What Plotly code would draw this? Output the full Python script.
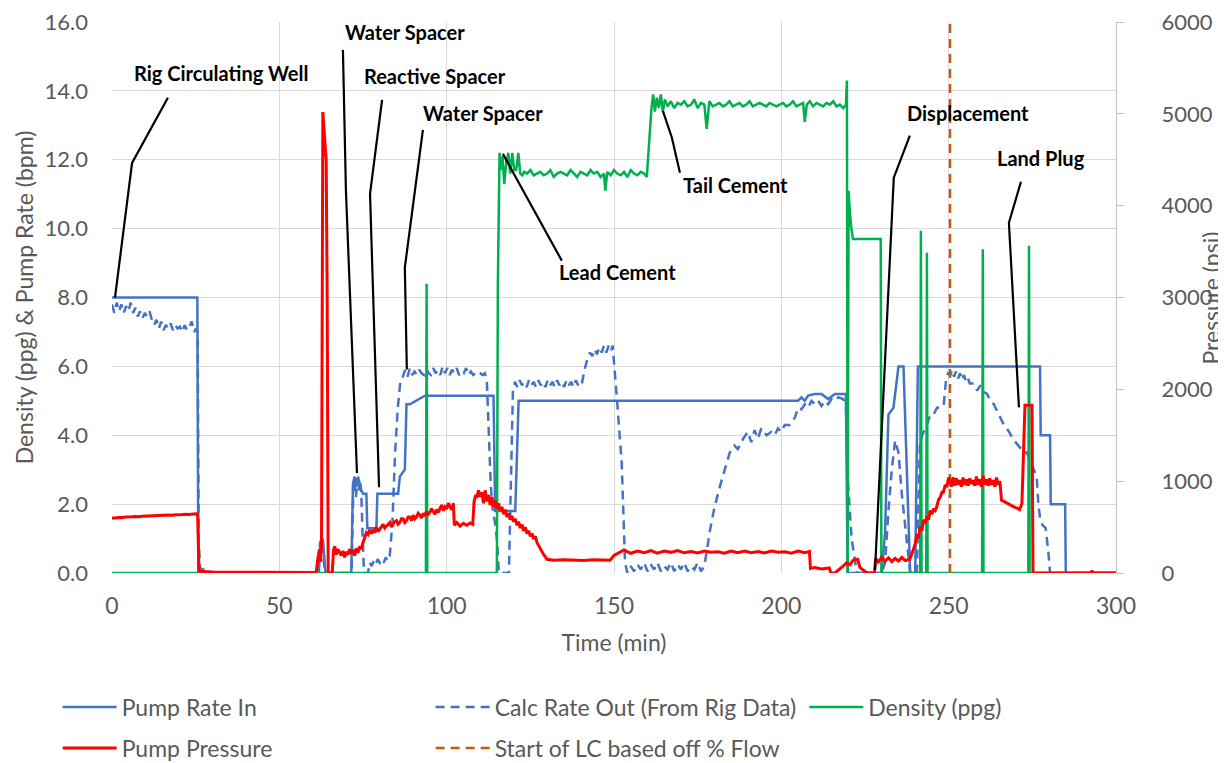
import plotly.graph_objects as go

# ---------------- data (time in min, value) ----------------
rate_in_pts = [(0, 8.0), (25.5, 8.0), (25.8, 0), (61.8, 0), (62.3, 0.8), (63.0, 1.0), (63.8, 0), (71.5, 0),
               (72.0, 2.6), (72.5, 2.8), (73.0, 2.5), (73.5, 2.8), (74.0, 2.6), (74.5, 2.4), (75.0, 2.3),
               (76.0, 2.3), (76.3, 1.3), (79.0, 1.3), (79.3, 2.3), (85.5, 2.3), (86.0, 2.8), (87.5, 3.0),
               (88.0, 4.9), (89.0, 4.9), (93.5, 5.15), (114.0, 5.15), (114.5, 1.8), (120.5, 1.8),
               (121.5, 5.0), (205.0, 5.0), (206.0, 5.1), (207.0, 5.0), (208.0, 5.15), (210.0, 5.2),
               (212.0, 5.2), (214.0, 5.05), (216.0, 5.2), (218.0, 5.2), (219.3, 5.2), (219.8, 0),
               (230.0, 0), (231.0, 1.2), (232.0, 4.6), (233.5, 4.8), (235.0, 6.0), (236.5, 6.0),
               (237.5, 3.0), (238.5, 0), (240.0, 0), (240.8, 6.0), (277.3, 6.0), (277.5, 4.0),
               (280.3, 4.0), (280.5, 2.0), (284.8, 2.0), (285.0, 0), (300, 0)]

rate_out_pts = [(0, 7.8), (0.7, 7.55), (1.4, 7.85), (2.1, 7.6), (2.8, 7.8), (3.5, 7.55), (4.2, 7.75),
                (4.9, 7.6), (5.6, 7.85), (6.3, 7.55), (7, 7.7), (7.7, 7.45), (8.4, 7.6), (9.1, 7.4),
                (9.8, 7.55), (10.5, 7.45), (11.2, 7.6), (11.9, 7.35), (12.6, 7.2), (13.3, 7.35), (14, 7.1),
                (14.7, 7.3), (15.4, 7.05), (16.1, 7.2), (16.8, 7.1), (17.5, 7.25), (18.2, 7.05), (18.9, 7.2),
                (19.6, 7.1), (20.3, 7.15), (21, 7.0), (21.7, 7.2), (22.4, 7.05), (23.1, 7.15), (23.8, 7.3),
                (24.5, 7.0), (25.2, 7.1), (25.6, 7.0), (25.9, 1.0), (26.3, 0.15), (27, 0.1), (28, 0.1),
                (28.5, 0), (61.5, 0), (62.2, 0.9), (62.8, 1.0), (63.3, 0.3), (63.8, 0), (71.6, 0),
                (72.1, 2.4), (72.5, 2.7), (72.9, 2.2), (73.3, 2.75), (73.7, 2.4), (74.1, 2.7), (74.5, 2.3),
                (74.9, 1.0), (75.3, 0), (76.5, 0), (77, 0.3), (77.6, 0.2), (78.2, 0.35), (78.8, 0.25),
                (79.4, 0.4), (80, 0.3), (80.6, 0.4), (81.2, 0.3), (81.8, 0.45), (82.4, 0.35), (83, 0.5),
                (83.8, 1.5), (84.6, 3.5), (85.4, 4.8), (86.2, 5.6), (86.9, 5.7), (87.6, 5.9), (88.3, 5.7),
                (89, 5.95), (89.7, 5.75), (90.4, 5.85), (91.1, 5.75), (91.8, 5.9), (92.5, 5.8), (93.2, 5.75),
                (93.9, 5.95), (94.6, 5.8), (95.3, 5.75), (96, 5.95), (96.7, 5.8), (97.4, 5.9), (98.1, 5.75),
                (98.8, 6.0), (99.5, 5.8), (100.2, 5.95), (100.9, 5.75), (101.6, 5.9), (102.3, 5.8),
                (103, 5.95), (103.7, 5.75), (104.4, 5.85), (105.1, 5.8), (105.8, 5.95), (106.5, 5.75),
                (107.2, 5.85), (107.9, 5.75), (108.6, 5.8), (109.3, 5.75), (110, 5.8), (110.7, 5.75),
                (111.4, 5.8), (112, 5.6), (112.6, 4.0), (113.2, 2.5), (113.8, 1.8), (114.4, 1.5), (115, 1.0),
                (115.6, 0), (118.6, 0), (119.2, 3.0), (119.8, 5.3), (120.4, 5.55), (121.1, 5.4), (121.8, 5.6),
                (122.5, 5.45), (123.2, 5.55), (123.9, 5.4), (124.6, 5.6), (125.3, 5.45), (126, 5.55),
                (126.7, 5.4), (127.4, 5.6), (128.1, 5.45), (128.8, 5.55), (129.5, 5.4), (130.2, 5.6),
                (130.9, 5.45), (131.6, 5.55), (132.3, 5.4), (133, 5.6), (133.7, 5.45), (134.4, 5.55),
                (135.1, 5.4), (135.8, 5.6), (136.5, 5.45), (137.2, 5.55), (137.9, 5.4), (138.6, 5.6),
                (139.3, 5.45), (140, 5.55), (140.4, 5.5), (141.2, 5.9), (142, 6.2), (142.8, 6.4),
                (143.5, 6.3), (144.2, 6.5), (144.9, 6.35), (145.6, 6.55), (146.3, 6.4), (147, 6.6),
                (147.7, 6.4), (148.4, 6.6), (149.1, 6.45), (149.6, 6.6), (150.3, 5.8), (151, 4.9),
                (152.3, 3.2), (153.3, 0.3), (154, 0), (155, 0.2), (156, 0.05), (157, 0.25), (158, 0.1),
                (159, 0.3), (160, 0.05), (161, 0.25), (162, 0.1), (163, 0.3), (164, 0.05), (165, 0.2),
                (166, 0.1), (167, 0.3), (168, 0.05), (169, 0.25), (170, 0.1), (171, 0.3), (172, 0.05),
                (173, 0.2), (174, 0.1), (175, 0.3), (176, 0.05), (177, 0.2), (178.7, 1.25), (180, 1.9),
                (181.6, 2.5), (183, 3.0), (184.6, 3.5), (186, 3.7), (187, 3.6), (188.6, 3.9), (190, 4.1),
                (191, 3.8), (192, 4.15), (193, 3.9), (194, 4.2), (195.6, 4.0), (197, 4.1), (198, 4.0),
                (199, 4.2), (200, 4.1), (201, 4.3), (202.5, 4.3), (204, 4.5), (205, 4.8), (206, 4.75),
                (207, 4.9), (208, 4.8), (209, 5.0), (210, 4.9), (211, 5.0), (212, 4.85), (213, 5.0),
                (214, 4.9), (215, 5.05), (216, 5.0), (217, 5.1), (218.5, 5.05), (219.3, 4.8), (220, 2.5),
                (221, 1.0), (222.6, 0), (230, 0), (231, 0.3), (232, 1.8), (233, 3.0), (234, 3.85),
                (235, 3.5), (236, 2.3), (237.5, 1.0), (238.5, 0), (240.5, 0), (241.4, 3.8), (242.3, 4.05),
                (243.5, 4.3), (244.5, 4.6), (245.5, 4.6), (246.5, 4.8), (247.5, 4.8), (248.5, 4.85),
                (249.2, 5.6), (249.8, 5.8), (250.5, 5.75), (251, 5.9), (251.6, 5.7), (252.2, 5.85),
                (252.8, 5.65), (253.4, 5.8), (254, 5.6), (254.6, 5.75), (255.2, 5.55), (255.8, 5.65),
                (256.3, 5.5), (257.5, 5.5), (258.5, 5.3), (259.5, 5.45), (260.5, 5.25), (261.5, 5.2),
                (262.5, 5.0), (263.5, 4.9), (264.5, 4.7), (265.5, 4.5), (266.5, 4.3), (267.4, 4.2),
                (268.5, 4.0), (269.5, 3.85), (270.4, 3.75), (271.5, 3.6), (272.5, 3.5), (273.3, 3.5),
                (274.5, 3.2), (275.5, 3.0), (276.3, 2.8), (276.8, 2.0), (277.3, 1.6), (278, 1.4),
                (279, 1.3), (279.8, 0.6), (280.3, 0), (300, 0)]

density_pts = [(0, 0), (93.8, 0), (94.0, 8.4), (94.2, 0), (115.0, 0), (115.3, 8.4), (115.8, 12.2),
               (116.2, 11.7), (116.7, 12.1), (117.2, 11.3), (117.8, 11.9), (118.4, 12.2), (119, 11.6),
               (119.6, 12.2), (120.2, 11.7), (120.8, 11.7), (121.4, 12.2), (122, 11.6), (122.6, 11.55),
               (123.2, 11.65), (124, 11.6), (125, 11.7), (126, 11.55), (127, 11.6), (128, 11.65),
               (129, 11.55), (130, 11.6), (131, 11.7), (132, 11.5), (133, 11.6), (134, 11.65), (135, 11.6),
               (136, 11.55), (137, 11.7), (138, 11.6), (139, 11.5), (140, 11.65), (141, 11.6), (142, 11.55),
               (143, 11.7), (144, 11.6), (145, 11.65), (146, 11.5), (147, 11.6), (147.4, 11.1), (148, 11.65),
               (149, 11.55), (150, 11.7), (151, 11.6), (152, 11.55), (153, 11.65), (154, 11.5), (155, 11.7),
               (156, 11.6), (157, 11.55), (158, 11.65), (159, 11.6), (159.8, 11.5), (160.5, 12.6),
               (161.2, 13.5), (161.7, 13.9), (162.2, 13.4), (162.8, 13.8), (163.4, 13.5), (164, 13.9),
               (164.6, 13.4), (165.2, 13.75), (166, 13.55), (167, 13.7), (168, 13.5), (169, 13.65),
               (170, 13.6), (171, 13.7), (172, 13.55), (173, 13.6), (174, 13.75), (175, 13.5), (176, 13.65),
               (177, 13.6), (177.7, 12.9), (178.5, 13.7), (179.5, 13.55), (180.5, 13.6), (181.5, 13.65),
               (182.5, 13.55), (183.5, 13.6), (184.5, 13.7), (185.5, 13.55), (186.5, 13.6), (187.5, 13.65),
               (188.5, 13.55), (189.5, 13.6), (190.5, 13.7), (191.5, 13.55), (192.5, 13.6), (193.5, 13.65),
               (194.5, 13.6), (195.5, 13.55), (196.5, 13.65), (197.5, 13.6), (198.5, 13.55), (199.5, 13.6),
               (200.5, 13.65), (201.5, 13.55), (202.5, 13.6), (203.5, 13.7), (204.5, 13.55), (205.5, 13.6),
               (206.5, 13.65), (207, 13.1), (207.6, 13.6), (208.5, 13.7), (209.5, 13.55), (210.5, 13.65),
               (211.5, 13.6), (212.5, 13.55), (213.5, 13.65), (214.5, 13.6), (215.5, 13.7), (216.5, 13.55),
               (217.5, 13.6), (218.5, 13.5), (219.3, 13.6), (219.6, 14.3), (219.8, 0), (220.1, 11.1),
               (220.4, 10.6), (220.8, 10.1), (221.4, 9.7), (229.7, 9.7), (229.9, 0), (241.5, 0),
               (241.7, 9.94), (241.9, 0), (243.3, 0), (243.5, 9.3), (243.7, 0), (260.0, 0), (260.2, 9.4),
               (260.4, 0), (273.8, 0), (274.0, 9.5), (274.2, 0), (300, 0)]

pressure_pts = [(0, 600), (1, 598), (2, 605), (3, 603), (4, 610), (5, 608), (6, 612), (7, 615), (8, 612),
                (9, 618), (10, 620), (11, 622), (12, 618), (13, 625), (14, 628), (15, 626), (16, 630),
                (17, 632), (18, 628), (19, 635), (20, 633), (21, 638), (22, 640), (23, 636), (24, 642),
                (25, 645), (25.6, 640), (26, 20), (30, 10), (40, 8), (50, 5), (61, 5), (61.5, 150),
                (62, 260), (62.3, 120), (62.6, 300), (63, 5020), (63.6, 4700), (64, 4490), (64.3, 3000),
                (64.6, 0), (65.8, 0), (66.2, 250), (66.6, 290), (67, 200), (67.5, 260), (68, 230),
                (68.5, 190), (69, 240), (69.5, 170), (70, 230), (70.5, 200), (71, 260), (71.5, 210),
                (72, 250), (72.5, 190), (73, 270), (73.5, 220), (74, 290), (74.5, 260), (75, 330),
                (75.5, 400), (76, 440), (76.5, 420), (77, 470), (77.5, 430), (78, 460), (78.5, 440),
                (79, 500), (79.5, 450), (80, 480), (80.5, 510), (81, 530), (81.5, 490), (82, 510),
                (82.5, 540), (83, 550), (83.5, 500), (84, 530), (84.5, 560), (85, 570), (85.5, 530),
                (86, 550), (86.5, 590), (87, 590), (87.5, 550), (88, 570), (88.5, 610), (89, 610),
                (89.5, 570), (90, 630), (90.5, 590), (91, 610), (91.5, 650), (92, 630), (92.5, 600),
                (93, 650), (93.5, 620), (94, 670), (94.5, 640), (95, 660), (95.5, 700), (96, 670),
                (96.5, 640), (97, 690), (97.5, 660), (98, 700), (98.5, 740), (99, 680), (99.5, 720),
                (100, 700), (100.5, 760), (101, 720), (101.5, 690), (102, 760), (102.3, 520), (103, 550),
                (104, 510), (105, 540), (106, 520), (107, 545), (107.8, 530), (108.2, 780), (108.7, 850),
                (109, 820), (109.5, 900), (110, 830), (110.5, 880), (111, 760), (111.5, 900), (112, 780),
                (112.5, 850), (113, 740), (113.5, 830), (114, 720), (114.5, 790), (115, 700), (115.5, 760),
                (116, 680), (116.5, 720), (117, 640), (117.5, 690), (118, 610), (118.5, 650), (119, 580),
                (119.5, 620), (120, 560), (120.5, 590), (121, 520), (121.5, 560), (122, 490), (122.5, 530),
                (123, 460), (123.5, 500), (124, 430), (124.5, 460), (125, 400), (125.5, 430), (126, 370),
                (126.5, 400), (127, 330), (128, 260), (129, 200), (130, 150), (132, 140), (135, 145),
                (138, 140), (141, 135), (144, 145), (147, 140), (148.8, 140), (150, 190), (151.8, 228),
                (153, 250), (155, 215), (157, 240), (159, 220), (161, 245), (163, 215), (165, 240),
                (167, 225), (169, 245), (171, 220), (173, 235), (175, 218), (177, 240), (179, 225),
                (181, 232), (183, 215), (185, 240), (187, 222), (189, 238), (191, 220), (193, 235),
                (195, 218), (197, 240), (199, 225), (201, 232), (203, 215), (205, 240), (207, 222),
                (208.4, 235), (208.7, 50), (210, 60), (212, 45), (214.3, 55), (214.8, 0), (216, 0),
                (218, 60), (219.5, 110), (220.5, 90), (221.5, 140), (222.8, 150), (223.5, 60), (225.3, 10),
                (226, 0), (227.8, 0), (228.2, 160), (229, 120), (230, 170), (231, 130), (232, 165),
                (233, 125), (234, 160), (235, 130), (236, 170), (237, 135), (238.4, 150), (239.5, 260),
                (240, 320), (240.5, 420), (241, 380), (241.4, 500), (242, 460), (242.5, 580), (243, 540),
                (243.5, 620), (244, 580), (244.5, 680), (245, 640), (245.5, 700), (246, 680), (246.4, 717),
                (247, 800), (247.4, 820), (248, 880), (248.4, 880), (249, 960), (249.4, 935), (250, 1040),
                (250.3, 1000), (250.8, 940), (251.3, 1043), (251.8, 950), (252.3, 1030), (252.8, 960),
                (253.3, 1010), (253.8, 940), (254.3, 1040), (254.8, 960), (255.3, 1020), (255.8, 950),
                (256.3, 1030), (256.8, 970), (257.3, 1010), (257.8, 950), (258.3, 1050), (258.8, 960),
                (259.3, 1020), (259.8, 940), (260.3, 1060), (260.8, 960), (261.3, 1020), (261.8, 950),
                (262.3, 1030), (262.8, 960), (263.3, 1010), (263.8, 940), (264.3, 1040), (264.8, 960),
                (265.3, 1000), (265.8, 793), (266.5, 780), (267.4, 760), (268.5, 740), (269.5, 720),
                (270.4, 706), (271.2, 690), (271.9, 760), (272.5, 1478), (272.8, 1826), (274.9, 1826),
                (275.2, 0), (292.5, 0), (292.8, 25), (293.2, 0), (300, 0)]

lc_start_pts = [(250.4, 0), (250.4, 16)]

callout_text = ["Rig Circulating Well", "Water Spacer", "Reactive Spacer", "Water Spacer",
                "Lead Cement", "Tail Cement", "Displacement", "Land Plug"]
callout_text_pos = [(32.6, 14.52), (87.5, 15.71), (96.5, 14.43), (110.8, 13.36),
                    (150.9, 8.75), (186.4, 11.28), (255.8, 13.36), (277.6, 12.06)]
callout_leaders = [[(16.7, 13.80), (6.0, 11.91), (0.9, 8.0)],
                   [(69.0, 15.19), (69.9, 11.10), (73.2, 2.90)],
                   [(80.7, 13.74), (77.1, 11.01), (79.8, 2.49)],
                   [(92.9, 12.87), (87.5, 8.87), (88.1, 5.91)],
                   [(116.8, 12.17), (134.4, 9.07)],
                   [(164.6, 13.42), (167.3, 12.64), (169.7, 11.62)],
                   [(238.4, 12.70), (233.6, 11.48), (228.0, 0.09)],
                   [(271.6, 11.36), (268.0, 10.17), (271.0, 4.81)]]

x_ticks = [0, 50, 100, 150, 200, 250, 300]
# -----------------------------------------------------------


def split(pts):
    return [p[0] for p in pts], [p[1] for p in pts]


FONT = "Lato"
GREY = "#595959"
BLUE = "#4472C4"
RED = "#FF0000"
GREEN = "#00B050"
BROWN = "#C55A11"

fig = go.Figure()
x, y = split(rate_in_pts)
fig.add_trace(go.Scatter(x=x, y=y, name="Pump Rate In", mode="lines",
                         line=dict(color=BLUE, width=2.5), legend="legend"))
x, y = split(rate_out_pts)
fig.add_trace(go.Scatter(x=x, y=y, name="Calc Rate Out (From Rig Data)", mode="lines",
                         line=dict(color=BLUE, width=2.5, dash="9px,6px"), legend="legend"))
x, y = split(density_pts)
fig.add_trace(go.Scatter(x=x, y=y, name="Density (ppg)", mode="lines",
                         line=dict(color=GREEN, width=2.5), legend="legend3"))
x, y = split(pressure_pts)
fig.add_trace(go.Scatter(x=x, y=y, name="Pump Pressure", mode="lines",
                         line=dict(color=RED, width=3), yaxis="y2", legend="legend2"))
x, y = split(lc_start_pts)
fig.add_trace(go.Scatter(x=x, y=y, name="Start of LC based off % Flow", mode="lines",
                         line=dict(color=BROWN, width=2.5, dash="9px,6px"), legend="legend2"))

for txt, (tx, ty), leader in zip(callout_text, callout_text_pos, callout_leaders):
    path = "M " + " L ".join(f"{a},{b}" for a, b in leader)
    fig.add_shape(type="path", path=path, xref="x", yref="y", line=dict(color="black", width=2.2))
    fig.add_annotation(x=tx, y=ty, xref="x", yref="y", text=f"<b>{txt}</b>", showarrow=False,
                       font=dict(family=FONT, size=20, color="black"))

tick_font = dict(family=FONT, size=23, color=GREY)
ytick_font = dict(family=FONT, size=22, color=GREY)
legend_font = dict(family=FONT, size=23, color=GREY)

# right axis title placed as a rotated annotation (reads bottom-to-top like the left one)
fig.add_annotation(x=1.0946, y=0.5, xref="paper", yref="paper", text="Pressure (psi)", textangle=-90,
                   showarrow=False, font=tick_font, xanchor="center", yanchor="middle")

legend_common = dict(orientation="h", xref="container", yref="container", xanchor="left",
                     yanchor="middle", entrywidth=304, entrywidthmode="pixels", itemwidth=54,
                     font=legend_font, bgcolor="rgba(0,0,0,0)")

# the page adds an 8 px body margin; margins below compensate so the plot sits where the reference has it
fig.update_layout(
    width=1226, height=763,
    margin=dict(l=104, r=118, t=14, b=198),
    paper_bgcolor="white", plot_bgcolor="white",
    font=dict(family=FONT, color=GREY),
    xaxis=dict(range=[0, 300], tickvals=x_ticks, showgrid=True, gridcolor="#D9D9D9", gridwidth=1,
               zeroline=False, showline=False, ticks="", tickfont=tick_font, ticklabelstandoff=17,
               automargin=False, ticklabeloverflow="allow",
               title=dict(text="Time (min)", font=tick_font, standoff=16)),
    yaxis=dict(range=[0, 16], dtick=2, tickformat=".1f", showgrid=True, gridcolor="#D9D9D9", gridwidth=1,
               zeroline=False, showline=False, ticks="", tickfont=ytick_font, ticklabelstandoff=23,
               automargin=False, ticklabeloverflow="allow",
               title=dict(text="Density (ppg) & Pump Rate (bpm)", font=tick_font, standoff=4)),
    yaxis2=dict(range=[0, 6000], dtick=1000, overlaying="y", side="right", showgrid=False,
                zeroline=False, showline=True, linecolor="#BFBFBF", linewidth=1, ticks="outside",
                ticklen=7, tickcolor="#BFBFBF", tickfont=ytick_font, ticklabelstandoff=33,
                automargin=False, ticklabeloverflow="allow"),
    legend=dict(x=0.0405, y=1 - 699 / 763, **legend_common),
    legend3=dict(x=0.6495, y=1 - 699 / 763, **legend_common),
    legend2=dict(x=0.0405, y=1 - 740 / 763, **legend_common),
    showlegend=True,
)

fig.write_html("out.html")
